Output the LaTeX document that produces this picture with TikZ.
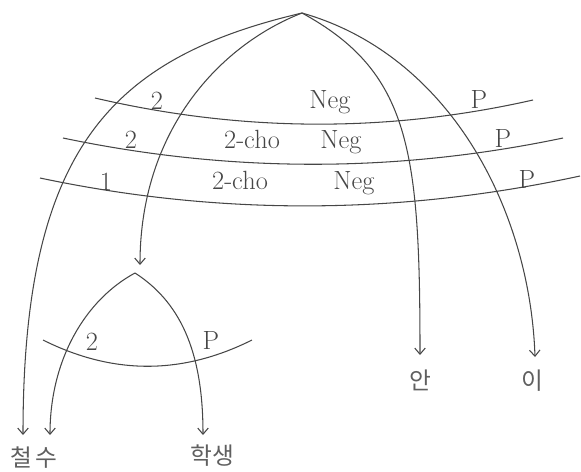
\documentclass[tikz,border=0pt]{standalone}
\usepackage{fontspec}
\usetikzlibrary{arrows.meta}
\newfontfamily\kofont{Noto Sans CJK KR}
\definecolor{inkgray}{RGB}{70,70,70}
\definecolor{wordgray}{RGB}{95,95,95}
\tikzset{
  % dependency arc, arrow at the word
  deparc/.style={-{Straight Barb[length=3.5pt,width=6pt]}, line width=0.6pt, draw=inkgray},
  % feature line across the arcs
  featline/.style={line width=0.6pt, draw=inkgray},
  feat/.style={anchor=base, inner sep=0pt, font=\fontsize{15}{18}\selectfont, text=inkgray},
  word/.style={anchor=base, inner sep=0pt, font=\kofont\fontsize{13.5}{16}\selectfont, text=wordgray}
}

\begin{document}
\begin{tikzpicture}[x=0.02cm, y=-0.02cm]
  \useasboundingbox (0,0) rectangle (581,471);

  % Roots
  \coordinate (top) at (302,13);
  \coordinate (sub) at (135,273);

  % Words
  \node[word] (chulsu) at (34,466) {철\kern2pt 수};
  \node[word] (haksaeng) at (212,464) {학생};
  \node[word] (an) at (420,389) {안};
  \node[word] (i) at (532,389) {이};

  % Arrow ends
  \coordinate (chulTip) at (23,435);
  \coordinate (suTip) at (50,435);
  \coordinate (subTip) at (140,265);
  \coordinate (hakTip) at (203,435);
  \coordinate (anTip) at (420,355);
  \coordinate (iTip) at (535,357);

  % Arcs from the top
  \draw[deparc] (top) .. controls (110,58) and (23,150) .. (chulTip);
  \draw[deparc] (top) .. controls (220,45) and (140,130) .. (subTip);
  \draw[deparc] (top) .. controls (410,72) and (420,150) .. (anTip);
  \draw[deparc] (top) .. controls (450,55) and (530,210) .. (iTip);

  % Arcs of the small tree
  \draw[deparc] (sub) .. controls (85,300) and (50,360) .. (suTip);
  \draw[deparc] (sub) .. controls (185,305) and (203,360) .. (hakTip);

  % Feature lines
  \draw[featline] (95,98) .. controls (241,132) and (387,133) .. (533,100);
  \draw[featline] (63,138) .. controls (230,173) and (396,173) .. (563,138);
  \draw[featline] (40,178) .. controls (220,216) and (400,215) .. (580,176);
  \draw[featline] (43,340) .. controls (113,375) and (182,375) .. (252,340);

  % Labels, first line
  \node[feat] (oneA) at (157,109) {2};
  \node[feat] (oneNeg) at (330,108) {Neg};
  \node[feat] (oneP) at (479,108) {P};

  % Labels, second line
  \node[feat] (twoA) at (131,148) {2};
  \node[feat] (twoCho) at (252,148) {2-cho};
  \node[feat] (twoNeg) at (341,148) {Neg};
  \node[feat] (twoP) at (503,147) {P};

  % Labels, third line
  \node[feat] (threeA) at (106,190) {1};
  \node[feat] (threeCho) at (240,189) {2-cho};
  \node[feat] (threeNeg) at (354,189) {Neg};
  \node[feat] (threeP) at (527,188) {P};

  % Labels, small tree
  \node[feat] (subA) at (92,350) {2};
  \node[feat] (subP) at (211,349) {P};
\end{tikzpicture}
\end{document}
